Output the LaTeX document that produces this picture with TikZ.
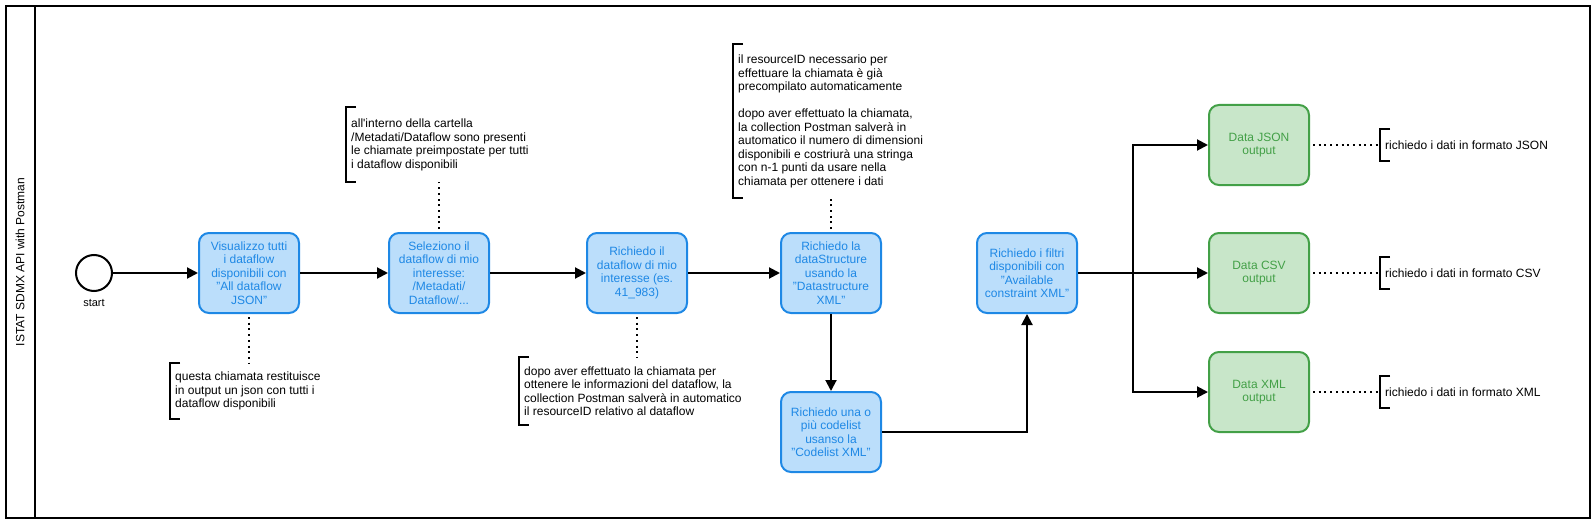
\documentclass[tikz,border=0pt]{standalone}
\usepackage{fontspec}
\setmainfont{Liberation Sans}
\usetikzlibrary{shapes,arrows.meta,positioning,calc}

\definecolor{taskfill}{HTML}{BBDEFB}
\definecolor{taskdraw}{HTML}{1E88E5}
\definecolor{outfill}{HTML}{C8E6C9}
\definecolor{outdraw}{HTML}{43A047}

\begin{document}
\begin{tikzpicture}[x=1pt, y=-1pt,
  task/.style={draw=taskdraw, fill=taskfill, text=taskdraw, line width=2pt, rounded corners=10pt,
    minimum width=100pt, minimum height=80pt, align=center, font=\fontsize{12}{13.5}\selectfont},
  outbox/.style={task, draw=outdraw, fill=outfill, text=outdraw},
  flow/.style={line width=2pt, -{Triangle[length=11pt,width=11pt]}},
  assoc/.style={line width=2pt, dash pattern=on 2pt off 3.7pt, shorten <=3pt},
  note/.style={anchor=north west, align=left, inner xsep=5pt, inner ysep=0pt,
    font=\fontsize{12}{13.5}\selectfont},
  bracket/.style={line width=2pt}]

\useasboundingbox (0,0) rectangle (1596,524);

% Pool and lane
\draw[line width=2pt] (6,6) rectangle (1590,518);
\draw[line width=2pt] (35,6) -- (35,518);
\node[rotate=90, font=\fontsize{12}{14}\selectfont] (lane) at (20,262) {ISTAT SDMX API with Postman};

% Start event
\node[circle, draw, line width=2pt, minimum size=36pt] (start) at (94,273) {};
\node[font=\fontsize{11}{13}\selectfont] (startlbl) at (94,303) {start};

% Tasks
\node[task] (view) at (249,273) {Visualizzo tutti\\i dataflow\\disponibili con\\"All dataflow\\JSON"};
\node[task] (sel) at (439,273) {Seleziono il\\dataflow di mio\\interesse:\\/Metadati/\\Dataflow/...};
\node[task] (req) at (637,273) {Richiedo il\\dataflow di mio\\interesse (es.\\41\_983)};
\node[task] (dsd) at (831,273) {Richiedo la\\dataStructure\\usando la\\"Datastructure\\XML"};
\node[task] (cl) at (831,432) {Richiedo una o\\più codelist\\usanso la\\"Codelist XML"};
\node[task] (cons) at (1027,273) {Richiedo i filtri\\disponibili con\\"Available\\constraint XML"};

% Annotations
\node[note, minimum height=56pt] (nview) at (170,363)
  {questa chiamata restituisce\\in output un json con tutti i\\dataflow disponibili};
\node[note, minimum height=75pt] (nsel) at (346,107)
  {all\textquotesingle interno della cartella\\/Metadati/Dataflow sono presenti\\le chiamate preimpostate per tutti\\i dataflow disponibili};
\node[note, minimum height=68pt] (nreq) at (519,357)
  {dopo aver effettuato la chiamata per\\ottenere le informazioni del dataflow, la\\collection Postman salverà in automatico\\il resourceID relativo al dataflow};
\node[note, minimum height=154pt] (ndsd) at (733,44)
  {il resourceID necessario per\\effettuare la chiamata è già\\precompilato automaticamente\\[13.5pt]dopo aver effettuato la chiamata,\\la collection Postman salverà in\\automatico il numero di dimensioni\\disponibili e costriurà una stringa\\con n-1 punti da usare nella\\chiamata per ottenere i dati};

\foreach \n in {nview,nsel,nreq,ndsd} {
  \draw[bracket] ([xshift=10pt]\n.north west) -- (\n.north west) -- (\n.south west) -- ([xshift=10pt]\n.south west);
}

\draw[assoc] (view.south) -- (view.south |- nview.north);
\draw[assoc] (sel.north) -- (sel.north |- nsel.south);
\draw[assoc] (req.south) -- (req.south |- nreq.north);
\draw[assoc] (dsd.north) -- (dsd.north |- ndsd.south);

% Sequence flow
\draw[flow] (start) -- (view);
\draw[flow] (view) -- (sel);
\draw[flow] (sel) -- (req);
\draw[flow] (req) -- (dsd);
\draw[flow] (dsd) -- (cl);
\draw[flow] (cl.east) -| (cons.south);

% Outputs
\coordinate (split) at (1133,273);
\foreach \fmt/\y in {JSON/145,CSV/273,XML/392} {
  \node[outbox] (out\fmt) at (1259,\y) {Data \fmt\\output};
  \node[note, anchor=west, minimum height=32pt] (n\fmt) at (1380,\y) {richiedo i dati in formato \fmt};
  \draw[bracket] ([xshift=10pt]n\fmt.north west) -- (n\fmt.north west) -- (n\fmt.south west) -- ([xshift=10pt]n\fmt.south west);
  \draw[assoc] (out\fmt) -- (n\fmt);
}
\draw[flow] (cons) -- (outCSV);
\draw[flow] (split) |- (outJSON);
\draw[flow] (split) |- (outXML);

\end{tikzpicture}
\end{document}
